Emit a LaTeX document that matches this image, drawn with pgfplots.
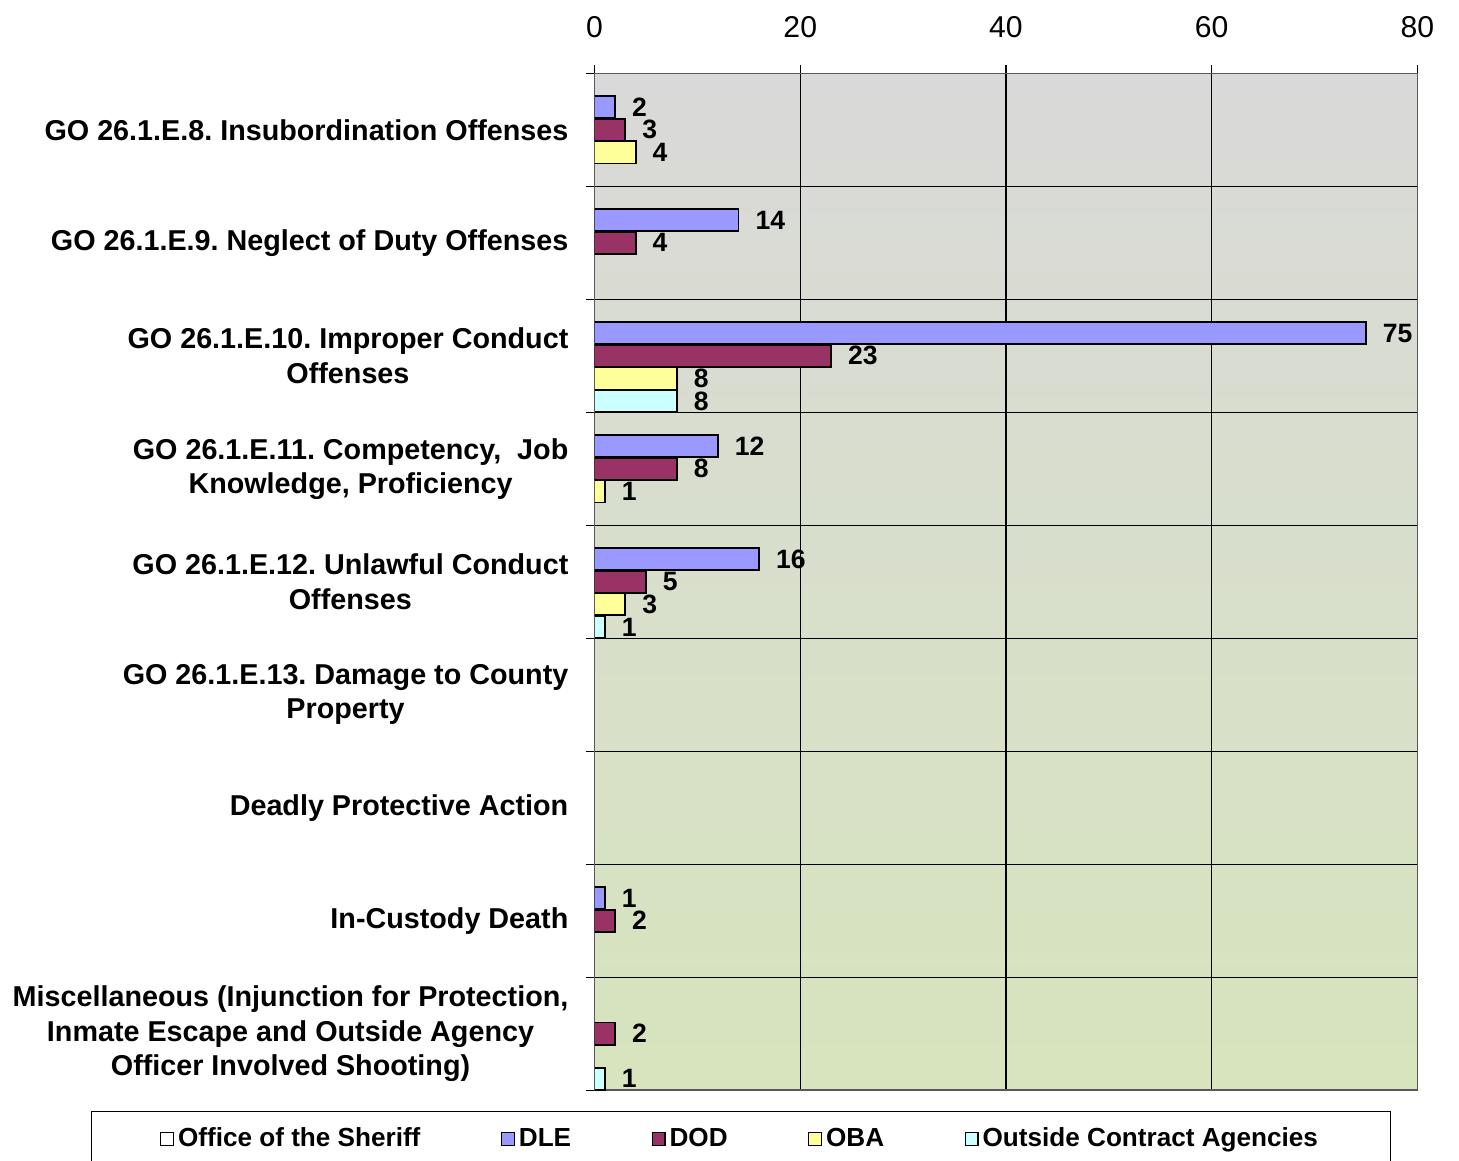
\documentclass[border=0pt]{standalone}
\usepackage{pgfplots}
\pgfplotsset{compat=1.18}
\usepackage{fontspec}
\setmainfont{Liberation Sans}
\frenchspacing

\definecolor{dle}{HTML}{9999FF}
\definecolor{dod}{HTML}{993366}
\definecolor{oba}{HTML}{FFFF99}
\definecolor{oca}{HTML}{CCFFFF}
\definecolor{bgtop}{HTML}{D9D9D9}
\definecolor{bgbot}{HTML}{D7E4BD}

\pgfplotsset{sqlegend/.style={legend image code/.code={%
  \draw[##1,line width=0.6pt,draw=black] (0pt,-3.2pt) rectangle (6.4pt,3.2pt);}}}

\begin{document}
\begin{tikzpicture}
\begin{axis}[
  scale only axis, width=409.5pt, height=506pt,
  xbar, bar width=0.196,
  xmin=0, xmax=80, xtick={0,20,...,80},
  ymin=-0.5, ymax=8.5, y dir=reverse,
  ytick={0,...,8},
  yticklabels={
    {GO 26.1.E.8. Insubordination Offenses},
    {GO 26.1.E.9. Neglect of Duty Offenses},
    {GO 26.1.E.10. Improper Conduct\\Offenses},
    {GO 26.1.E.11. Competency,~~Job\\Knowledge, Proficiency},
    {GO 26.1.E.12. Unlawful Conduct\\Offenses},
    {GO 26.1.E.13. Damage to County\\Property},
    {Deadly Protective Action},
    {In-Custody Death},
    {Miscellaneous (Injunction for Protection,\\Inmate Escape and Outside Agency\\Officer Involved Shooting)}},
  minor ytick={-0.5,0.5,...,8.5},
  xmajorgrids, yminorgrids,
  grid style={black, line width=0.6pt},
  minor grid style={black, line width=0.6pt},
  tick align=outside, xtick pos=upper, xticklabel pos=upper, ytick pos=left,
  major tick length=4pt, minor tick length=4pt,
  major y tick style={draw=none},
  tick style={black, line width=0.6pt},
  axis line style={black!65, line width=0.8pt},
  axis background/.style={top color=bgtop, bottom color=bgbot},
  /pgf/number format/assume math mode=true,
  xticklabel style={font=\fontsize{15}{17}\selectfont, yshift=10pt},
  yticklabel style={font=\bfseries\fontsize{14.3}{17}\selectfont, align=center, xshift=-5.5pt},
  nodes near coords,
  every node near coord/.append style={font=\bfseries\fontsize{13.2}{14}\selectfont,
    anchor=west, inner sep=0pt, xshift=8pt, black},
  legend columns=5,
  legend cell align=left,
  legend style={at={(0.178,-0.0208)}, anchor=north, draw=black, line width=0.5pt,
    fill=white, font=\bfseries\fontsize{13}{15}\selectfont,
    inner xsep=34pt, inner ysep=6pt,
    /tikz/every even column/.append style={column sep=38pt}},
]
\addlegendimage{fill=white, draw=black, sqlegend}
\addlegendentry{Office of the Sheriff}
\addplot[fill=dle, draw=black, line width=0.9pt, bar shift=-0.2, sqlegend]
  coordinates {(2,0) (14,1) (75,2) (12,3) (16,4) (1,7)};
\addlegendentry{DLE}
\addplot[fill=dod, draw=black, line width=0.9pt, bar shift=0, sqlegend]
  coordinates {(3,0) (4,1) (23,2) (8,3) (5,4) (2,7) (2,8)};
\addlegendentry{DOD}
\addplot[fill=oba, draw=black, line width=0.9pt, bar shift=0.2, sqlegend]
  coordinates {(4,0) (8,2) (1,3) (3,4)};
\addlegendentry{OBA}
\addplot[fill=oca, draw=black, line width=0.9pt, bar shift=0.4, sqlegend]
  coordinates {(8,2) (1,4) (1,8)};
\addlegendentry{Outside Contract Agencies}
\end{axis}
% the legend box is cut at the bottom edge in the original
\coordinate (bbnw) at (current bounding box.north west);
\coordinate (bbse) at (current bounding box.south east);
\pgfresetboundingbox
\path ([shift={(-3pt,5pt)}]bbnw) ([shift={(9pt,3pt)}]bbse);
\end{tikzpicture}
\end{document}
